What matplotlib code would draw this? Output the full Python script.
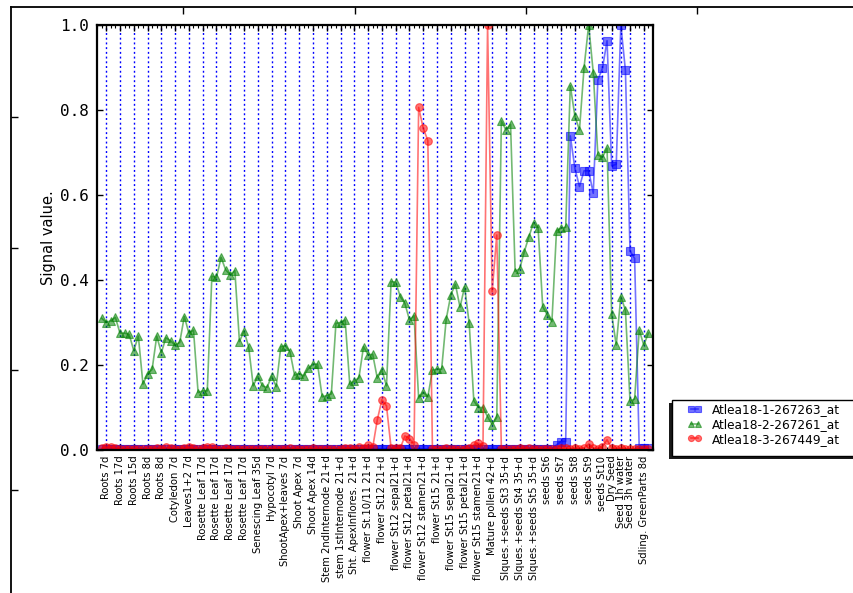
import numpy as np
import matplotlib.pyplot as plt
from matplotlib.patches import Rectangle
from matplotlib.ticker import MultipleLocator

# tissue labels, one per replicate group (placed on the middle replicate)
labels = [
    "Roots 7d", "Roots 17d", "Roots 15d", "Roots 8d", "Roots 8d",
    "Cotyledon 7d", "Leaves1+2 7d", "Rosette Leaf 17d", "Rosette Leaf 17d",
    "Rosette Leaf 17d", "Rosette Leaf 17d", "Senescing Leaf 35d", "Hypocotyl 7d",
    "ShootApex+leaves 7d", "Shoot Apex 7d", "Shoot Apex 14d",
    "Stem 2ndInternode 21+d", "stem 1stInternode 21+d", "Sht. ApexInflores. 21+d",
    "flower St.10/11 21+d", "flower St12 21+d", "flower St12 sepal21+d",
    "flower St12 petal21+d", "flower St12 stamen21+d", "flower St15 21+d",
    "flower St15 sepal21+d", "flower St15 petal21+d", "flower St15 stamen21+d",
    "Mature pollen 42+d", "Slques.+seeds St3 35+d", "Slques.+seeds St4 35+d",
    "Slques.+seeds St5 35+d", "seeds St6", "seeds St7", "seeds St8", "seeds St9",
    "seeds St10", "Dry Seed", "Seed 1h water", "Seed 3h water",
    "Sdling. GreenParts 8d",
]
label_pos = [1, 4, 7, 10, 13, 16, 19, 22, 25, 28, 31, 34, 37, 40, 43, 46, 49,
             52, 55, 58, 61, 64, 67, 70, 73, 76, 79, 82, 85, 88, 91, 94, 97,
             100, 103, 106, 109, 111, 113, 115, 118]

probe_names = ["Atlea18-1-267263_at", "Atlea18-2-267261_at", "Atlea18-3-267449_at"]

probe_1 = [
    0.003, 0.003, 0.003, 0.003, 0.003, 0.003, 0.003, 0.003, 0.003, 0.003, 0.003, 0.003,
    0.003, 0.003, 0.003, 0.003, 0.003, 0.003, 0.003, 0.003, 0.003, 0.003, 0.003, 0.003,
    0.003, 0.003, 0.003, 0.003, 0.003, 0.003, 0.003, 0.003, 0.003, 0.003, 0.003, 0.003,
    0.003, 0.003, 0.003, 0.003, 0.003, 0.003, 0.003, 0.003, 0.003, 0.003, 0.003, 0.003,
    0.003, 0.003, 0.003, 0.003, 0.003, 0.003, 0.003, 0.003, 0.003, 0.003, 0.003, 0.003,
    0.003, 0.003, 0.003, 0.003, 0.003, 0.003, 0.003, 0.003, 0.003, 0.003, 0.003, 0.003,
    0.003, 0.003, 0.003, 0.003, 0.003, 0.003, 0.003, 0.003, 0.003, 0.003, 0.003, 0.003,
    0.003, 0.003, 0.003, 0.003, 0.003, 0.003, 0.003, 0.003, 0.003, 0.003, 0.003, 0.003,
    0.003, 0.003, 0.003, 0.012, 0.020, 0.020, 0.739, 0.663, 0.620, 0.657, 0.657, 0.604,
    0.871, 0.898, 0.963, 0.669, 0.672, 1.000, 0.893, 0.468, 0.451, 0.004, 0.004, 0.004,
]
probe_2 = [
    0.310, 0.300, 0.304, 0.312, 0.275, 0.275, 0.272, 0.234, 0.268, 0.155, 0.179, 0.190,
    0.268, 0.229, 0.264, 0.257, 0.247, 0.253, 0.314, 0.275, 0.282, 0.135, 0.139, 0.139,
    0.409, 0.406, 0.453, 0.424, 0.412, 0.422, 0.255, 0.280, 0.243, 0.151, 0.174, 0.151,
    0.147, 0.174, 0.149, 0.243, 0.245, 0.231, 0.176, 0.180, 0.174, 0.192, 0.202, 0.202,
    0.125, 0.128, 0.132, 0.298, 0.300, 0.306, 0.155, 0.162, 0.170, 0.243, 0.224, 0.225,
    0.169, 0.188, 0.151, 0.396, 0.395, 0.361, 0.345, 0.306, 0.316, 0.122, 0.136, 0.125,
    0.188, 0.190, 0.190, 0.308, 0.365, 0.390, 0.336, 0.384, 0.298, 0.116, 0.100, 0.100,
    0.078, 0.060, 0.077, 0.774, 0.753, 0.766, 0.420, 0.427, 0.467, 0.502, 0.535, 0.522,
    0.337, 0.318, 0.302, 0.516, 0.522, 0.524, 0.857, 0.786, 0.753, 0.900, 1.000, 0.888,
    0.694, 0.689, 0.710, 0.320, 0.247, 0.361, 0.329, 0.115, 0.120, 0.282, 0.247, 0.275,
]
probe_3 = [
    0.004, 0.006, 0.008, 0.004, 0.003, 0.003, 0.003, 0.003, 0.002, 0.003, 0.003, 0.003,
    0.004, 0.003, 0.006, 0.005, 0.003, 0.003, 0.004, 0.007, 0.004, 0.003, 0.004, 0.007,
    0.006, 0.003, 0.003, 0.004, 0.003, 0.003, 0.003, 0.003, 0.003, 0.003, 0.003, 0.003,
    0.003, 0.003, 0.003, 0.003, 0.003, 0.004, 0.003, 0.003, 0.003, 0.003, 0.004, 0.003,
    0.003, 0.003, 0.003, 0.003, 0.003, 0.004, 0.005, 0.003, 0.006, 0.004, 0.012, 0.006,
    0.071, 0.118, 0.104, 0.005, 0.004, 0.004, 0.033, 0.027, 0.012, 0.806, 0.757, 0.728,
    0.003, 0.003, 0.003, 0.004, 0.003, 0.003, 0.003, 0.003, 0.004, 0.012, 0.016, 0.010,
    1.000, 0.373, 0.506, 0.003, 0.003, 0.003, 0.003, 0.004, 0.003, 0.005, 0.003, 0.003,
    0.003, 0.003, 0.003, 0.003, 0.004, 0.005, 0.003, 0.004, 0.003, 0.005, 0.014, 0.004,
    0.003, 0.008, 0.024, 0.004, 0.003, 0.004, 0.003, 0.003, 0.003, 0.003, 0.003, 0.003,
]

W, H = 854, 593
fig = plt.figure(figsize=(W / 100, H / 100), dpi=100)


def px(x, y):
    # pixel position (from top-left) -> figure fraction
    return x / W, 1 - y / H


# surrounding frame (only its left and top edges fall inside the picture)
frame = fig.add_axes([11 / W, -0.5, 2.0, 1.5 - 7 / H])
frame_h = (1.5 - 7 / H) * H
frame.set_xlim(11, 11 + 2.0 * W)
frame.set_ylim(7 + frame_h, 7)
for side in ["left", "top"]:
    frame.spines[side].set_linewidth(1.3)
frame.spines["right"].set_visible(False)
frame.spines["bottom"].set_visible(False)
frame.xaxis.tick_top()
frame.set_xticks([183, 355, 526, 697])
frame.set_yticks([117, 248, 370, 490])
frame.tick_params(direction="in", length=5, width=1, labeltop=False,
                  labelleft=False, labelbottom=False)

ax = fig.add_axes([97 / W, 1 - 450 / H, 556 / W, 425 / H])
x = np.arange(len(probe_1))
styles = [("b", "s"), ("g", "^"), ("r", "o")]
for vals, name, (c, m) in zip([probe_1, probe_2, probe_3], probe_names, styles):
    ax.plot(x, vals, color=c, marker=m, ms=5.5, alpha=0.55, lw=1.2,
            mec=c, mew=0.8, label=name)

ax.set_xlim(-1, 120)
ax.set_ylim(0, 1.0)
ax.set_xticks(label_pos)
ax.set_xticklabels(labels, rotation=90, fontsize=7.2)
ax.xaxis.set_minor_locator(MultipleLocator(1))
ax.set_yticks(np.arange(0, 1.01, 0.2))
ax.set_yticklabels(["%.1f" % v for v in np.arange(0, 1.01, 0.2)],
                   family="DejaVu Sans Mono", fontsize=11.5)
ax.grid(axis="x", color="b", linestyle=(0, (1.4, 2.0)), linewidth=1.0)
ax.tick_params(which="both", direction="in", top=True, right=True)
ax.tick_params(which="major", length=4, width=1)
ax.tick_params(which="minor", length=2, width=0.8)
ax.tick_params(axis="x", which="major", pad=4)
ax.tick_params(axis="y", which="major", pad=6)
for s in ax.spines.values():
    s.set_linewidth(1.6)
ax.set_ylabel("Signal value.", fontsize=10.5, labelpad=3)

# legend box with a dark shadow to the lower left, then the entries on top
box_x, box_y = px(672, 456)
shadow = Rectangle((box_x - 3 / W, box_y - 3 / H), 200 / W, 56 / H,
                   transform=fig.transFigure, facecolor="#1a1a1a",
                   edgecolor="none", zorder=3)
box = Rectangle((box_x, box_y), 200 / W, 56 / H, transform=fig.transFigure,
                facecolor="white", edgecolor="black", linewidth=1.0, zorder=4)
fig.add_artist(shadow)
fig.add_artist(box)

leg = fig.legend(loc="upper left", bbox_to_anchor=px(687, 403),
                 fontsize=8.7, numpoints=2, handlelength=1.25, markerscale=0.8,
                 frameon=False, borderpad=0, borderaxespad=0,
                 labelspacing=0.15, handletextpad=0.85)
leg.set_zorder(5)

fig.savefig("out.png", dpi=100)
